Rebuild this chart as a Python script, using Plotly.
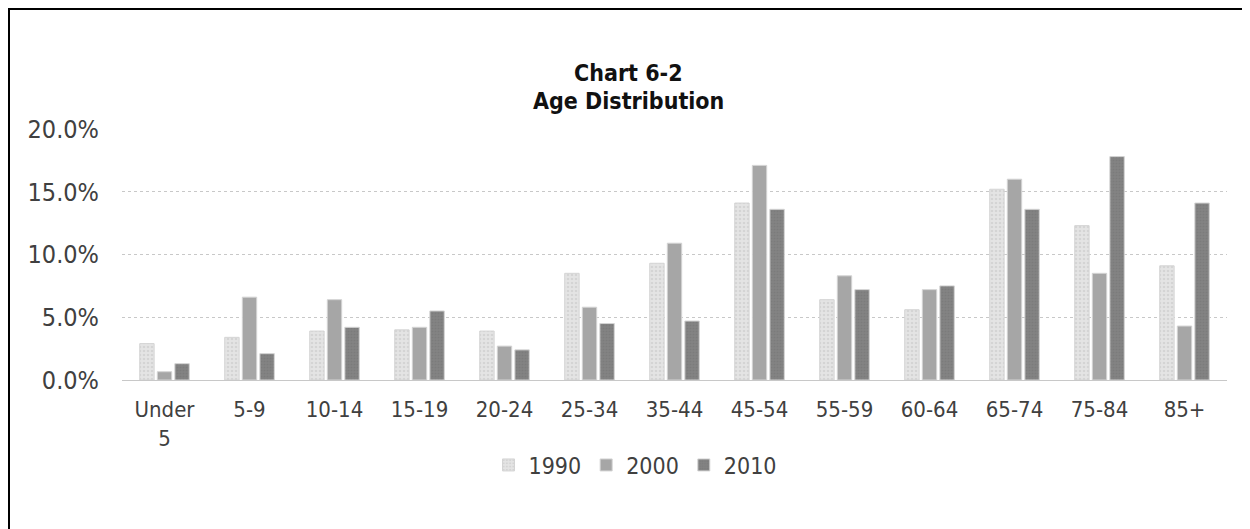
import plotly.graph_objects as go

categories = ["Under<br>5", "5-9", "10-14", "15-19", "20-24", "25-34", "35-44",
              "45-54", "55-59", "60-64", "65-74", "75-84", "85+"]
v1990 = [2.9, 3.4, 3.9, 4.0, 3.9, 8.5, 9.3, 14.1, 6.4, 5.6, 15.2, 12.3, 9.1]
v2000 = [0.66, 6.6, 6.4, 4.2, 2.7, 5.8, 10.9, 17.1, 8.3, 7.2, 16.0, 8.5, 4.3]
v2010 = [1.3, 2.1, 4.2, 5.5, 2.4, 4.5, 4.7, 13.6, 7.2, 7.5, 13.6, 17.8, 14.1]
series_names = ["1990", "2000", "2010"]
tick_vals = [0, 5, 10, 15, 20]
tick_text = ["0.0%", "5.0%", "10.0%", "15.0%", "20.0%"]
title_lines = ["Chart 6-2", "Age Distribution"]

FONT = "DejaVu Sans Condensed, DejaVu Sans, sans-serif"
TXT = "#404040"

W, H = 1250, 529
L, T, R, B = 114, 121, 31, 157
PW, PH = W - L - R, H - T - B


def py(fig_y):
    return (PH - (fig_y - T)) / PH


def px(fig_x):
    return (fig_x - L) / PW


fig = go.Figure()
styles = [
    dict(color="#e4e4e4", pattern=dict(shape=".", fgcolor="#c4c4c4", bgcolor="#e4e4e4", size=4, solidity=0.3)),
    dict(color="#a6a6a6"),
    dict(color="#7f7f7f", pattern=dict(shape=".", fgcolor="#737373", bgcolor="#838383", size=3, solidity=0.3)),
]
for name, vals, st in zip(series_names, [v1990, v2000, v2010], styles):
    marker = dict(color=st["color"], line=dict(color="#d4d4d4", width=1))
    if "pattern" in st:
        marker["pattern"] = st["pattern"]
    fig.add_trace(go.Bar(x=categories, y=vals, name=name, marker=marker))

fig.update_layout(
    width=W, height=H,
    paper_bgcolor="white", plot_bgcolor="white",
    margin=dict(l=L, r=R, t=T, b=B),
    barmode="group", bargap=0.38, bargroupgap=0.18,
    font=dict(family=FONT, size=23, color=TXT),
    legend=dict(orientation="h", x=px(627), xanchor="center", y=py(457),
                yanchor="middle", font=dict(family=FONT, size=23, color=TXT),
                itemwidth=30, traceorder="normal"),
    showlegend=True,
)
for line, fy in zip(title_lines, [65, 93]):
    fig.add_annotation(text="<b>%s</b>" % line, xref="paper", yref="paper",
                       x=px(620), y=py(fy), xanchor="center", yanchor="middle",
                       showarrow=False, font=dict(family=FONT, size=23, color="#111111"))

fig.update_yaxes(range=[0, 20], tickvals=tick_vals, ticktext=tick_text,
                 showgrid=True, gridcolor="#c8c8c8", griddash="dot", gridwidth=1,
                 zeroline=True, zerolinecolor="#c8c8c8", zerolinewidth=1,
                 ticks="", ticklabelstandoff=22, tickfont=dict(size=25, color=TXT))
fig.update_xaxes(showgrid=False, ticks="", tickfont=dict(size=22, color=TXT),
                 showline=False, ticklabelstandoff=14)

fig.add_shape(type="rect", xref="paper", yref="paper",
              x0=px(1), x1=px(W + 60), y0=py(H + 60), y1=py(1),
              line=dict(color="black", width=2), fillcolor="rgba(0,0,0,0)", layer="below")

fig.write_html("out.html")
